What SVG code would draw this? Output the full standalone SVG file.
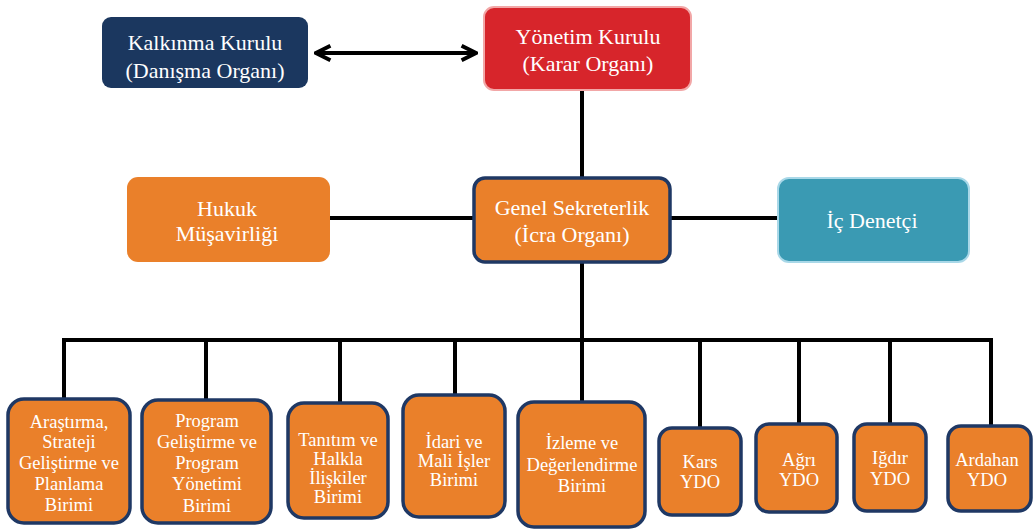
<svg xmlns="http://www.w3.org/2000/svg" width="1034" height="529" viewBox="0 0 1034 529">
<defs>
<marker id="ah" viewBox="0 0 10 10" refX="9" refY="5" markerWidth="4.5" markerHeight="4.5" orient="auto-start-reverse"><path d="M1,1 L9,5 L1,9" fill="none" stroke="#000" stroke-width="2.2"/></marker>
<style>
.tx{font-family:'Liberation Serif','Times New Roman','DejaVu Serif',serif;fill:#fff;text-anchor:middle}
.t{font-size:22px}
.b{font-size:18.5px}
.or{fill:#EA802A}
.ob{fill:#EA802A;stroke:#1F3864;stroke-width:3.5}
.ln{stroke:#000;stroke-width:4;fill:none}
</style>
</defs>
<rect width="1034" height="529" fill="#fff"/>
<g id="connectors">
<line class="ln" x1="316" y1="53" x2="476" y2="53" stroke-width="3.5" marker-start="url(#ah)" marker-end="url(#ah)"/>
<line class="ln" x1="582" y1="90" x2="582" y2="178"/>
<line class="ln" x1="330" y1="218" x2="778" y2="218"/>
<line class="ln" x1="582" y1="262" x2="582" y2="340"/>
<line class="ln" x1="62" y1="340" x2="993" y2="340"/>
<line class="ln" x1="64" y1="340" x2="64" y2="400"/>
<line class="ln" x1="206" y1="340" x2="206" y2="400"/>
<line class="ln" x1="340" y1="340" x2="340" y2="403"/>
<line class="ln" x1="455" y1="340" x2="455" y2="395"/>
<line class="ln" x1="582" y1="340" x2="582" y2="402"/>
<line class="ln" x1="700" y1="340" x2="700" y2="428"/>
<line class="ln" x1="799" y1="340" x2="799" y2="424"/>
<line class="ln" x1="890" y1="340" x2="890" y2="424"/>
<line class="ln" x1="991" y1="340" x2="991" y2="426"/>
</g>
<g class="tx">
<g id="kalkinma">
<rect x="102" y="17" width="206" height="71" rx="9" fill="#1B375F"/>
<text class="t" x="205" y="50">Kalkınma Kurulu</text>
<text class="t" x="205" y="78">(Danışma Organı)</text>
</g>
<g id="yonetim">
<rect x="484" y="7" width="207" height="83" rx="10" fill="#D7252B" stroke="#F2A7A7" stroke-width="2"/>
<text class="t" x="588" y="44">Yönetim Kurulu</text>
<text class="t" x="588" y="71">(Karar Organı)</text>
</g>
<g id="hukuk">
<rect x="127" y="177" width="203" height="85" rx="11" class="or"/>
<text class="t" x="227" y="216">Hukuk</text>
<text class="t" x="227" y="241">Müşavirliği</text>
</g>
<g id="genel">
<rect x="474" y="178" width="196" height="84" rx="11" class="ob"/>
<text class="t" x="572" y="215">Genel Sekreterlik</text>
<text class="t" x="572" y="242">(İcra Organı)</text>
</g>
<g id="icdenetci">
<rect x="778" y="178" width="191" height="84" rx="11" fill="#3A9AB3" stroke="#A9D8E8" stroke-width="2"/>
<text class="t" x="872" y="228">İç Denetçi</text>
</g>
<g id="arastirma">
<rect x="8" y="399" width="122" height="124" rx="16" class="ob"/>
<text class="b" x="69" y="428">Araştırma,</text>
<text class="b" x="69" y="448">Strateji</text>
<text class="b" x="69" y="469">Geliştirme ve</text>
<text class="b" x="69" y="490">Planlama</text>
<text class="b" x="69" y="511">Birimi</text>
</g>
<g id="program">
<rect x="142" y="400" width="129" height="123" rx="16" class="ob"/>
<text class="b" x="207" y="427">Program</text>
<text class="b" x="207" y="448">Geliştirme ve</text>
<text class="b" x="207" y="469">Program</text>
<text class="b" x="207" y="490">Yönetimi</text>
<text class="b" x="207" y="512">Birimi</text>
</g>
<g id="tanitim">
<rect x="288" y="403" width="100" height="115" rx="16" class="ob"/>
<text class="b" x="338" y="446">Tanıtım ve</text>
<text class="b" x="338" y="465">Halkla</text>
<text class="b" x="338" y="484">İlişkiler</text>
<text class="b" x="338" y="503">Birimi</text>
</g>
<g id="idari">
<rect x="403" y="395" width="102" height="122" rx="16" class="ob"/>
<text class="b" x="454" y="448">İdari ve</text>
<text class="b" x="454" y="467">Mali İşler</text>
<text class="b" x="454" y="486">Birimi</text>
</g>
<g id="izleme">
<rect x="518" y="402" width="127" height="125" rx="16" class="ob"/>
<text class="b" x="582" y="449">İzleme ve</text>
<text class="b" x="582" y="471">Değerlendirme</text>
<text class="b" x="582" y="492">Birimi</text>
</g>
<g id="kars">
<rect x="659" y="428" width="82" height="87" rx="13" class="ob"/>
<text class="b" x="700" y="468">Kars</text>
<text class="b" x="700" y="488">YDO</text>
</g>
<g id="agri">
<rect x="756" y="424" width="81" height="88" rx="13" class="ob"/>
<text class="b" x="799" y="466">Ağrı</text>
<text class="b" x="799" y="486">YDO</text>
</g>
<g id="igdir">
<rect x="854" y="424" width="72" height="87" rx="13" class="ob"/>
<text class="b" x="890" y="464">Iğdır</text>
<text class="b" x="890" y="485">YDO</text>
</g>
<g id="ardahan">
<rect x="948" y="426" width="83" height="85" rx="13" class="ob"/>
<text class="b" x="987" y="466">Ardahan</text>
<text class="b" x="987" y="486">YDO</text>
</g>
</g>
</svg>
